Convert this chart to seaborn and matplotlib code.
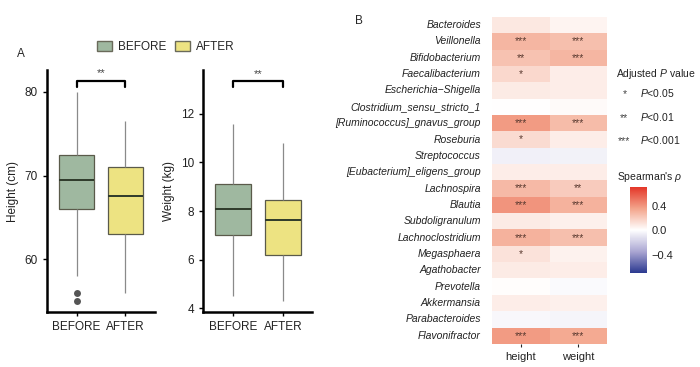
import numpy as np
import pandas as pd
import matplotlib
matplotlib.use("Agg")
import matplotlib.pyplot as plt
from matplotlib.patches import Patch
import seaborn as sns

# ---- data ----
groups = ["BEFORE", "AFTER"]
# five-number summaries: low whisker, Q1, median, Q3, high whisker
height_before = [58, 66, 69.5, 72.5, 80]
height_after = [56, 63, 67.5, 71, 76.5]
weight_before = [4.5, 7.0, 8.1, 9.1, 11.6]
weight_after = [4.3, 6.2, 7.65, 8.45, 10.8]
height_outliers = [55, 56]
sig_label = ["**", "**"]
bracket_y = [81.3, 13.35]

genera = ["Bacteroides", "Veillonella", "Bifidobacterium", "Faecalibacterium",
          "Escherichia\u2212Shigella", "Clostridium_sensu_stricto_1",
          "[Ruminococcus]_gnavus_group", "Roseburia", "Streptococcus",
          "[Eubacterium]_eligens_group", "Lachnospira", "Blautia",
          "Subdoligranulum", "Lachnoclostridium", "Megasphaera", "Agathobacter",
          "Prevotella", "Akkermansia", "Parabacteroides", "Flavonifractor"]
rho_height = [0.09, 0.28, 0.24, 0.15, 0.08, 0.00, 0.38, 0.14, -0.06, 0.07,
              0.27, 0.40, 0.08, 0.30, 0.11, 0.08, 0.01, 0.07, -0.03, 0.38]
rho_weight = [0.04, 0.25, 0.28, 0.07, 0.07, 0.02, 0.26, 0.07, -0.05, 0.07,
              0.20, 0.30, 0.06, 0.25, 0.05, 0.07, -0.02, 0.06, -0.04, 0.33]
stars_height = ["", "***", "**", "*", "", "", "***", "*", "", "",
                "***", "***", "", "***", "*", "", "", "", "", "***"]
stars_weight = ["", "***", "***", "", "", "", "***", "", "", "",
                "**", "***", "", "***", "", "", "", "", "", "***"]

sns.set_style("white")
plt.rcParams["font.family"] = ["Liberation Sans", "DejaVu Sans"]
plt.rcParams["mathtext.fontset"] = "custom"
plt.rcParams["mathtext.rm"] = "Liberation Sans"
plt.rcParams["mathtext.it"] = "Liberation Sans:italic"

pal = {"BEFORE": "#9fb8a0", "AFTER": "#ede382"}

fig = plt.figure(figsize=(7, 3.67), dpi=100)
ax1 = fig.add_axes([0.067, 0.150, 0.154, 0.659])
ax2 = fig.add_axes([0.290, 0.150, 0.156, 0.659])

box_df = pd.DataFrame({
    "group": ["BEFORE"] * 5 + ["AFTER"] * 5,
    "height": height_before + height_after,
    "weight": weight_before + weight_after,
})

for ax, col, ylab in [(ax1, "height", "Height (cm)"), (ax2, "weight", "Weight (kg)")]:
    sns.boxplot(data=box_df, x="group", y=col, hue="group", order=groups,
                palette=pal, saturation=1, width=0.73, whis=1.5, showfliers=False,
                showcaps=False, linewidth=0.9, linecolor="#5a5a4a",
                medianprops=dict(color="#2e3a2a", linewidth=1.4),
                whiskerprops=dict(color="#8a8a8a"),
                legend=False, ax=ax)
    ax.set_xlabel("")
    ax.set_ylabel(ylab, fontsize=8.5, color="#222222")
    ax.tick_params(axis="both", labelsize=8.5, length=3, width=1, color="black",
                   labelcolor="#222222", left=True, bottom=True)
    for s in ["top", "right"]:
        ax.spines[s].set_visible(False)
    for s in ["left", "bottom"]:
        ax.spines[s].set_linewidth(1.8)
        ax.spines[s].set_color("black")

sns.stripplot(x=["BEFORE"] * len(height_outliers), y=height_outliers, order=groups,
              color="#555555", size=5, jitter=False, ax=ax1)

ax1.set_ylim(53.7, 82.6)
ax1.set_yticks([60, 70, 80])
ax1.set_xlim(-0.61, 1.6)
ax2.set_ylim(3.85, 13.8)
ax2.set_yticks([4, 6, 8, 10, 12])
ax2.set_xlim(-0.6, 1.58)

# significance brackets
for ax, yb, lab in zip([ax1, ax2], bracket_y, sig_label):
    lo, hi = ax.get_ylim()
    drop = (hi - lo) * 0.025
    ax.plot([0, 0, 1, 1], [yb - drop, yb, yb, yb - drop], color="black", lw=1.6,
            clip_on=False)
    ax.text(0.5, yb + drop * 0.4, lab, ha="center", va="bottom", fontsize=8,
            color="#444444")

fig.legend(handles=[Patch(facecolor=pal[g], edgecolor="#6a6a5a", label=g) for g in groups],
           loc="center", bbox_to_anchor=(0.237, 0.872), ncol=2, frameon=False,
           fontsize=8.5, handlelength=1.3, handleheight=1.0, columnspacing=0.7,
           handletextpad=0.5)
fig.text(0.024, 0.845, "A", fontsize=8.5)
fig.text(0.507, 0.935, "B", fontsize=8.5)

# ---- heatmap ----
hax = fig.add_axes([0.703, 0.063, 0.164, 0.891])
cax = fig.add_axes([0.9, 0.256, 0.024, 0.234])
rho = pd.DataFrame({"height": rho_height, "weight": rho_weight}, index=genera)
stars = np.array([stars_height, stars_weight]).T
cmap = sns.blend_palette(["#2b3990", "#aaa6d2", "#ffffff", "#f3a58c", "#e4382a"],
                         as_cmap=True)
sns.heatmap(rho, cmap=cmap, vmin=-0.7, vmax=0.7, annot=stars, fmt="",
            annot_kws=dict(fontsize=7.5, color="#5a3a30"), cbar_ax=cax,
            cbar_kws=dict(ticks=[-0.4, 0.0, 0.4]), ax=hax)
hax.tick_params(axis="y", length=0, labelsize=7.5, labelcolor="#222222", pad=8)
hax.tick_params(axis="x", length=2, labelsize=8, labelcolor="#222222", bottom=True)
for t in hax.get_yticklabels():
    t.set_style("italic")
    t.set_rotation(0)

cbar = hax.collections[0].colorbar
cbar.set_ticklabels(["\u22120.4", "0.0", "0.4"])
cbar.outline.set_visible(False)
cax.tick_params(labelsize=8, length=3, color="white", direction="in", labelcolor="#222222")

fig.text(0.88, 0.79, "Adjusted $P$ value", fontsize=7.5, color="#222222")
fig.text(0.89, 0.735, "*", fontsize=7.5, color="#444444")
fig.text(0.915, 0.735, "$P$<0.05", fontsize=7.5, color="#222222")
fig.text(0.886, 0.67, "**", fontsize=7.5, color="#444444")
fig.text(0.915, 0.67, "$P$<0.01", fontsize=7.5, color="#222222")
fig.text(0.882, 0.607, "***", fontsize=7.5, color="#444444")
fig.text(0.915, 0.607, "$P$<0.001", fontsize=7.5, color="#222222")
fig.text(0.882, 0.51, "Spearman's $\\rho$", fontsize=7.5, color="#222222")

fig.savefig("out.png", dpi=100)
